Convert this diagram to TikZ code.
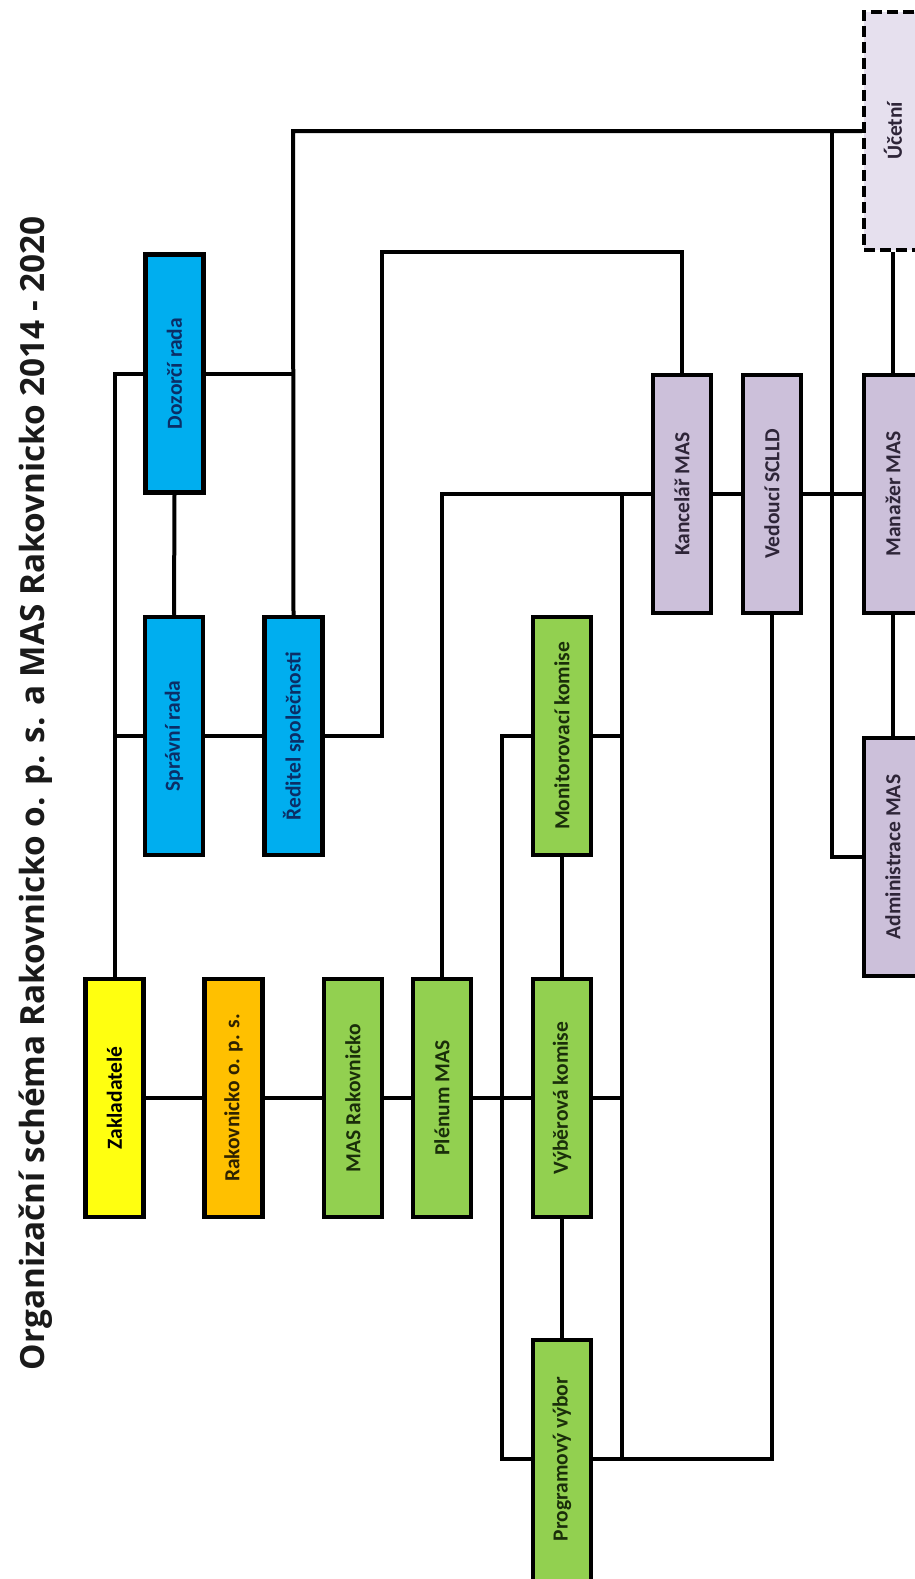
\documentclass[tikz,border=0pt]{standalone}
\usepackage{fontspec}
\usepackage{graphicx}
\newfontfamily\boxfont{Carlito}
\newfontfamily\titlefont{Open Sans}
\definecolor{fYellow}{HTML}{FFFF10}
\definecolor{fOrange}{HTML}{FFC000}
\definecolor{fGreen}{HTML}{92D050}
\definecolor{fBlue}{HTML}{00AEEF}
\definecolor{fPurple}{HTML}{CCC0DA}
\definecolor{fLight}{HTML}{E6E0EE}
\definecolor{tBlue}{HTML}{0B2E66}
\definecolor{tGreen}{HTML}{1A2E0A}
\definecolor{tOrange}{HTML}{2E2200}
\definecolor{tPurple}{HTML}{2E2538}
\definecolor{tTitle}{HTML}{1A1A1A}
\begin{document}
\begin{tikzpicture}[x=1pt,y=-1pt,
  orgbox/.style={draw=black, line width=4.5pt, minimum width=58pt, minimum height=238pt,
    inner sep=0pt, font=\boxfont\bfseries\fontsize{21.5}{24}\selectfont},
  yellowbox/.style={orgbox, fill=fYellow, text=black},
  orangebox/.style={orgbox, fill=fOrange, text=tOrange},
  greenbox/.style={orgbox, fill=fGreen, text=tGreen},
  bluebox/.style={orgbox, fill=fBlue, text=tBlue},
  purplebox/.style={orgbox, fill=fPurple, text=tPurple},
  dashbox/.style={orgbox, fill=fLight, text=tPurple, dash pattern=on 11pt off 5pt},
  conn/.style={draw=black, line width=4pt}]
\useasboundingbox (0,0) rectangle (915,1579);
\fill[white] (0,0) rectangle (915,1579);
\clip (0,0) rectangle (915,1579);

% title
\node[anchor=base, rotate=90, inner sep=0pt, text=tTitle] (title) at (45,793)
  {\resizebox{1154pt}{!}{\titlefont\bfseries\fontsize{30}{36}\selectfont Organizační schéma Rakovnicko o. p. s. a MAS Rakovnicko 2014 - 2020}};

% boxes
\node[yellowbox] (zak) at (114.5,1098) {\rotatebox{90}{Zakladatelé}};
\node[orangebox] (rak) at (233.5,1098) {\rotatebox{90}{Rakovnicko o. p. s.}};
\node[greenbox] (masr) at (353,1098) {\rotatebox{90}{MAS Rakovnicko}};
\node[greenbox] (plen) at (442,1098) {\rotatebox{90}{Plénum MAS}};
\node[greenbox] (vyb) at (562,1098) {\rotatebox{90}{Výběrová komise}};
\node[greenbox, minimum height=262pt] (prog) at (562,1471) {\rotatebox{90}{\hspace*{24pt}Programový výbor}};
\node[greenbox] (mon) at (562,736) {\rotatebox{90}{Monitorovací komise}};
\node[bluebox] (doz) at (174.5,373.5) {\rotatebox{90}{Dozorčí rada}};
\node[bluebox] (spr) at (174,736) {\rotatebox{90}{Správní rada}};
\node[bluebox] (red) at (293.5,736) {\rotatebox{90}{Ředitel společnosti}};
\node[purplebox] (kanc) at (682,494) {\rotatebox{90}{Kancelář MAS}};
\node[purplebox] (ved) at (772,494) {\rotatebox{90}{Vedoucí SCLLD}};
\node[purplebox] (man) at (893,494) {\rotatebox{90}{Manažer MAS}};
\node[purplebox] (adm) at (893,857) {\rotatebox{90}{Administrace MAS}};
\node[dashbox] (uc) at (893,131) {\rotatebox{90}{Účetní}};

% junction coordinates
\coordinate (jTopL) at (293,131);
\coordinate (jTopR) at (832,131);
\coordinate (jAdm) at (832,857);
\coordinate (jDozR) at (293,373.5);
\coordinate (jKancTop) at (382,252);
\coordinate (jV) at (622,494);
\coordinate (jVbot) at (622,1459);
\coordinate (jProgL) at (502,1459);

% connectors
\draw[conn] (uc.west) -- (jTopL) -- (red.north);
\draw[conn] (jTopR) -- (jAdm) -- (adm.west);
\draw[conn] (doz.west) -| (zak.north);
\draw[conn] (doz.east) -- (jDozR);
\draw[conn] (doz.south) -- (spr.north);
\draw[conn] (spr.west) -- (spr.west -| zak.north);
\draw[conn] (spr.east) -- (red.west);
\draw[conn] (red.east) -| (jKancTop) -| (kanc.north);
\draw[conn] (plen.north) |- (kanc.west);
\draw[conn] (jV) -- (jVbot);
\draw[conn] (kanc.east) -- (ved.west);
\draw[conn] (ved.east) -- (man.west);
\draw[conn] (uc.south) -- (man.north);
\draw[conn] (man.south) -- (adm.north);
\draw[conn] (mon.west) -| (jProgL) -- (prog.west |- jProgL);
\draw[conn] (mon.east) -- (mon.east -| jV);
\draw[conn] (mon.south) -- (vyb.north);
\draw[conn] (vyb.south) -- (prog.north);
\draw[conn] (zak.east) -- (rak.west);
\draw[conn] (rak.east) -- (masr.west);
\draw[conn] (masr.east) -- (plen.west);
\draw[conn] (plen.east) -- (vyb.west);
\draw[conn] (vyb.east) -- (vyb.east -| jV);
\draw[conn] (prog.east |- jVbot) -| (ved.south);
\end{tikzpicture}
\end{document}
